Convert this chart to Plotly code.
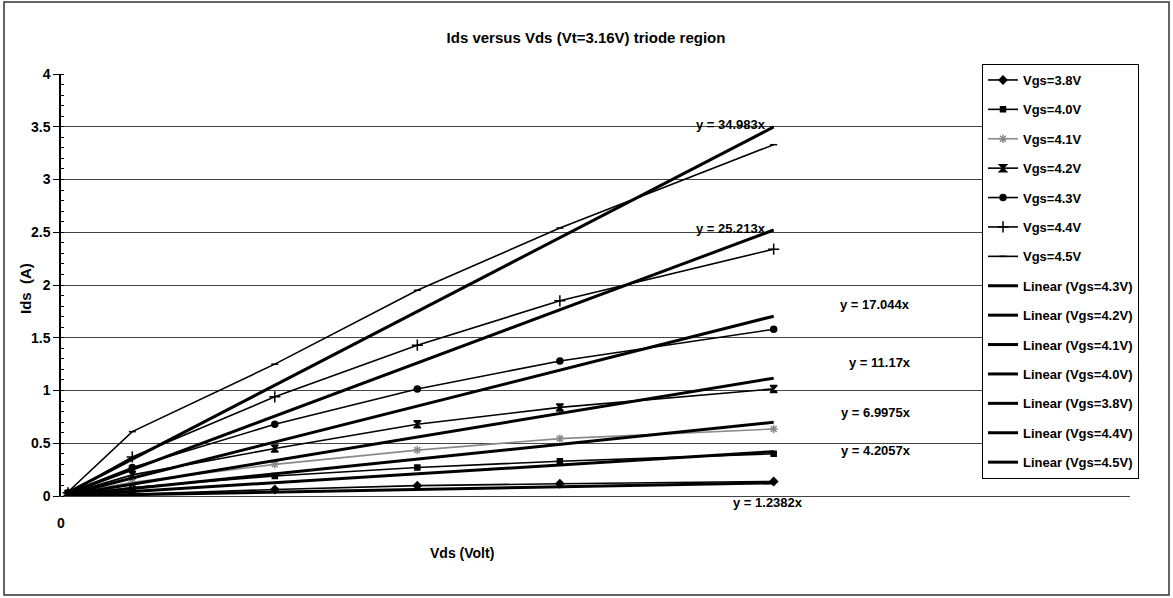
import plotly.graph_objects as go

# ---------------- data ----------------
vds = [0.001, 0.01, 0.03, 0.05, 0.07, 0.1]
ids_38 = [0.005, 0.015, 0.062, 0.098, 0.116, 0.138]
ids_40 = [0.01, 0.08, 0.19, 0.27, 0.33, 0.40]
ids_41 = [0.02, 0.13, 0.30, 0.435, 0.544, 0.635]
ids_42 = [0.02, 0.20, 0.45, 0.68, 0.84, 1.015]
ids_43 = [0.03, 0.27, 0.68, 1.015, 1.28, 1.58]
ids_44 = [0.03, 0.37, 0.94, 1.43, 1.85, 2.34]
ids_45 = [0.04, 0.61, 1.25, 1.95, 2.54, 3.33]

series_names = ["Vgs=3.8V", "Vgs=4.0V", "Vgs=4.1V", "Vgs=4.2V", "Vgs=4.3V", "Vgs=4.4V", "Vgs=4.5V"]
series_vals = [ids_38, ids_40, ids_41, ids_42, ids_43, ids_44, ids_45]

# linear trendline slopes (intercept 0), in legend order
trend_names = ["Vgs=4.3V", "Vgs=4.2V", "Vgs=4.1V", "Vgs=4.0V", "Vgs=3.8V", "Vgs=4.4V", "Vgs=4.5V"]
trend_slopes = [17.044, 11.17, 6.9975, 4.2057, 1.2382, 25.213, 34.983]

title_text = "Ids versus Vds (Vt=3.16V) triode region"
x_title = "Vds (Volt)"
y_title = "Ids  (A)"
y_ticks = [0, 0.5, 1, 1.5, 2, 2.5, 3, 3.5, 4]

# ---------------- styling ----------------
FONT = "Liberation Sans, Arial, sans-serif"
W, H = 1173, 598
L, R, T, B = 61, 1130, 74, 496  # plot area in pixels

def px2paper(px, py):
    return (px - L) / (R - L), (B - py) / (B - T)

styles = {
    "Vgs=3.8V": dict(symbol="diamond", size=6, color="black", lw=1.6),
    "Vgs=4.0V": dict(symbol="square", size=5, color="black", lw=1.6),
    "Vgs=4.1V": dict(symbol="asterisk-open", size=7, color="#8a8a8a", lw=1.6),
    "Vgs=4.2V": dict(symbol="hourglass", size=7, color="black", lw=1.6),
    "Vgs=4.3V": dict(symbol="circle", size=6, color="black", lw=1.6),
    "Vgs=4.4V": dict(symbol="cross-thin-open", size=8, color="black", lw=1.6),
    "Vgs=4.5V": dict(symbol="line-ew-open", size=5, color="black", lw=1.6),
}

fig = go.Figure()
gi = 0
for name, vals in zip(series_names, series_vals):
    st = styles[name]
    fig.add_trace(go.Scatter(
        x=vds, y=vals, name=name, mode="lines+markers",
        line=dict(color=st["color"], width=st["lw"]),
        marker=dict(symbol=st["symbol"], size=st["size"], color=st["color"],
                    line=dict(color=st["color"], width=1.5)),
        legendgroup="g%d" % gi,
    ))
    gi += 1

for name, k in zip(trend_names, trend_slopes):
    xs = [vds[0], vds[-1]]
    fig.add_trace(go.Scatter(
        x=xs, y=[k * v for v in xs], name="Linear (%s)" % name, mode="lines",
        line=dict(color="black", width=3),
        legendgroup="g%d" % gi,
    ))
    gi += 1

# trendline equation labels (pixel positions)
eq_pos = {
    34.983: (731, 125), 25.213: (731, 228), 17.044: (875, 304),
    11.17: (880, 362), 6.9975: (876, 412), 4.2057: (876, 450), 1.2382: (768, 503),
}
annotations = []
for k, (px, py) in eq_pos.items():
    ax, ay = px2paper(px, py)
    annotations.append(dict(text="y = %sx" % k, x=ax, y=ay, xref="paper", yref="paper",
                            showarrow=False, xanchor="center", yanchor="middle",
                            font=dict(family=FONT, size=13, color="black", weight="bold")))

ax, ay = px2paper(462, 553)
annotations.append(dict(text=x_title, x=ax, y=ay, xref="paper", yref="paper", showarrow=False,
                        xanchor="center", yanchor="middle",
                        font=dict(family=FONT, size=14, color="black", weight="bold")))
ax, ay = px2paper(25, 289)
annotations.append(dict(text=y_title, x=ax, y=ay, xref="paper", yref="paper", showarrow=False,
                        textangle=-90, xanchor="center", yanchor="middle",
                        font=dict(family=FONT, size=15, color="black", weight="bold")))

bx0, by0 = px2paper(4, 595)
bx1, by1 = px2paper(1169, 2)

fig.update_layout(
    width=W, height=H,
    margin=dict(l=L, r=W - R, t=T, b=H - B),
    paper_bgcolor="white", plot_bgcolor="white",
    font=dict(family=FONT, size=14, color="black", weight="bold"),
    title=dict(text=title_text, x=586 / W, xref="container", xanchor="center",
               y=1 - 38 / H, yref="container", yanchor="middle",
               font=dict(family=FONT, size=15, color="black", weight="bold")),
    showlegend=True,
    legend=dict(x=px2paper(982, 0)[0], y=px2paper(0, 64)[1], xanchor="left", yanchor="top",
                bgcolor="white", bordercolor="black", borderwidth=1,
                font=dict(family=FONT, size=13, color="black", weight="bold"),
                tracegroupgap=9.5, itemwidth=30, maxheight=520),
    annotations=annotations,
    shapes=[dict(type="rect", xref="paper", yref="paper", x0=bx0, y0=by0, x1=bx1, y1=by1,
                 line=dict(color="#333", width=1.5), layer="above")],
)

fig.update_xaxes(range=[0, 0.15], tickvals=[0], ticktext=["0"], showgrid=False,
                 showline=True, linecolor="#444", linewidth=1, ticks="",
                 ticklabelstandoff=14, zeroline=False,
                 tickfont=dict(family=FONT, size=14, color="black", weight="bold"))
fig.update_yaxes(range=[0, 4], tickvals=y_ticks, showgrid=True, gridcolor="#444", gridwidth=1,
                 showline=True, linecolor="black", linewidth=1.5, ticks="outside", ticklen=6,
                 tickcolor="black", zeroline=False,
                 minor=dict(dtick=0.1, ticks="inside", ticklen=3, tickcolor="black", showgrid=False),
                 tickfont=dict(family=FONT, size=14, color="black", weight="bold"))

fig.write_html("out.html", config={"displayModeBar": False},
               post_script="document.body.style.margin='0px';")
